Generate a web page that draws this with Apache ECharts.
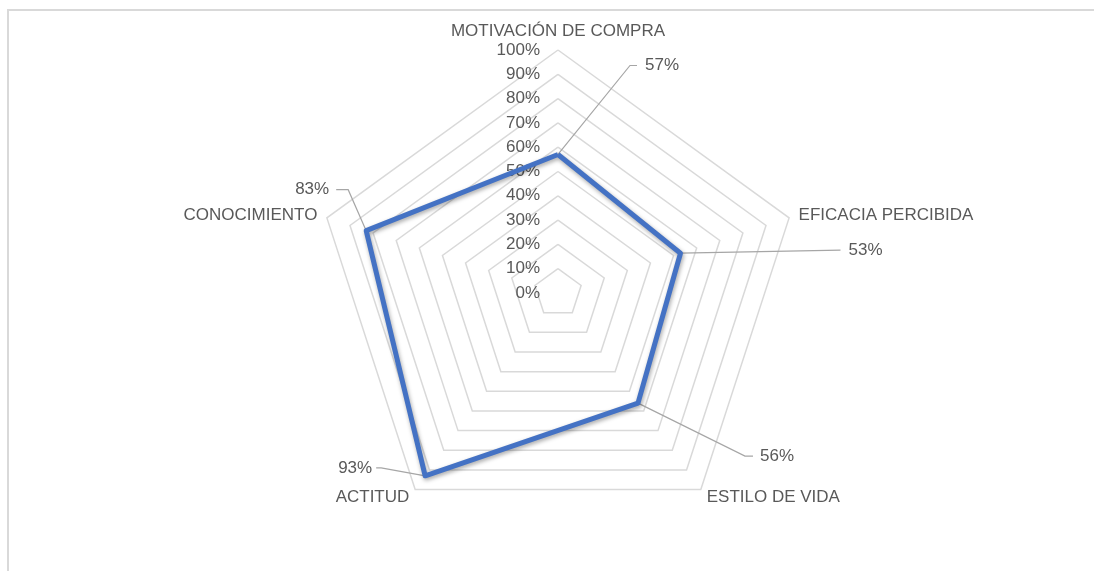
<!DOCTYPE html>
<html>
    <head>
        <meta charset="utf-8">
        <title>Radar</title>
        <script src="https://cdn.jsdelivr.net/npm/echarts@6/dist/echarts.min.js"></script>
        <style>
            body { margin: 0; background: #fff; }
            #marco { position: absolute; left: 7px; top: 9px; width: 1100px; height: 600px;
                     border-top: 2px solid #d9d9d9; border-left: 2px solid #d9d9d9; pointer-events: none; }
        </style>
    </head>
    <body>
    <div id="main" style="width: 1094px; height: 571px;"></div>
    <div id="marco"></div>
    <script type="text/javascript">

// el radar de echarts va en sentido antihorario, así que el orden es el inverso al de Excel
var indicadores = ['MOTIVACIÓN DE COMPRA', 'CONOCIMIENTO', 'ACTITUD', 'ESTILO DE VIDA', 'EFICACIA PERCIBIDA'];
var valores = [57, 83, 93, 56, 53];
var maximo = 100;

// donde va cada etiqueta de dato respecto al vértice (como en Excel)
var guias = [
  { linea: [[72, -89], [79, -89]], texto: [87, -89], align: 'left' },
  { linea: [[-18, -41], [-30, -41]], texto: [-37, -41], align: 'right' },
  { linea: [[-44, -8], [-49, -8]], texto: [-53, -8], align: 'right' },
  { linea: [[107, 53], [115, 53]], texto: [122, 53], align: 'left' },
  { linea: [[160, -3]], texto: [168, -3], align: 'left' }
];

var fuente = 'Liberation Sans';
var gris = '#595959';

var myChart = echarts.init(document.getElementById('main'));

var option = {
  backgroundColor: '#fff',
  textStyle: { fontFamily: fuente },
  radar: {
    center: [558, 293],
    radius: 243,
    startAngle: 90,
    splitNumber: 10,
    shape: 'polygon',
    axisNameGap: 10,
    axisName: { color: gris, fontSize: 17, fontFamily: fuente },
    axisLine: { show: false },
    axisTick: { show: false },
    splitArea: { show: false },
    splitLine: { lineStyle: { color: '#d9d9d9', width: 1.5 } },
    axisLabel: {
      show: true, color: gris, fontSize: 17, fontFamily: fuente, margin: 18,
      formatter: function (v) { return v + '%'; }
    },
    indicator: indicadores.map(function (n, i) {
      var ind = { name: n, min: 0, max: maximo };
      if (i > 0) ind.axisLabel = { show: false };
      return ind;
    })
  },
  series: [
    {
      type: 'radar',
      symbol: 'none',
      silent: true,
      lineStyle: {
        color: '#4472c4', width: 5,
        shadowColor: 'rgba(0,0,0,0.35)', shadowBlur: 4, shadowOffsetX: 1, shadowOffsetY: 2
      },
      data: [{ value: valores }]
    }
  ]
};

myChart.setOption(option);

// etiquetas con líneas guía, a partir del sistema de coordenadas del radar
var coord = myChart.getModel().getComponent('radar').coordinateSystem;
var graficos = [];
valores.forEach(function (v, i) {
  var p = coord.dataToPoint(v, i);
  var g = guias[i];
  var pts = [p].concat(g.linea.map(function (o) { return [p[0] + o[0], p[1] + o[1]]; }));
  graficos.push({
    type: 'polyline', silent: true,
    shape: { points: pts },
    style: { stroke: '#a6a6a6', lineWidth: 1.2, fill: null },
    z: 1
  });
  graficos.push({
    type: 'text', silent: true,
    x: p[0] + g.texto[0], y: p[1] + g.texto[1],
    style: {
      text: v + '%', fill: gris, fontSize: 17, fontFamily: fuente,
      align: g.align, verticalAlign: 'middle'
    }
  });
});
myChart.setOption({ graphic: graficos });
        </script>
    </body>
</html>
